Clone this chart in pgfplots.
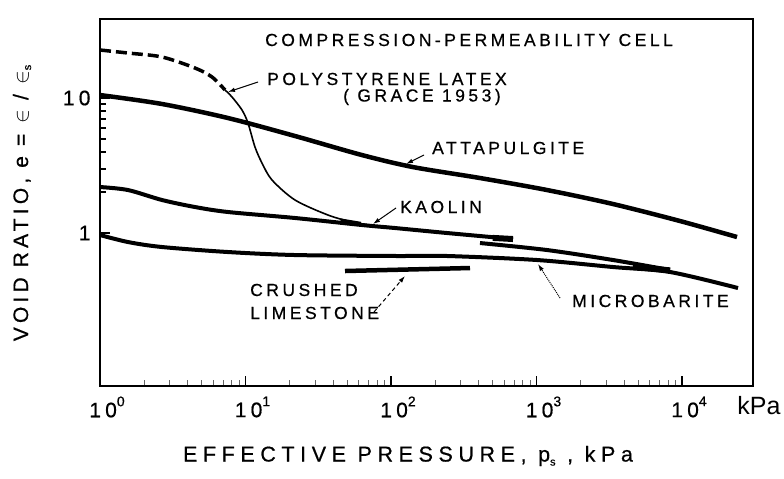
\documentclass[border=0pt]{standalone}
\usepackage{pgfplots}
\pgfplotsset{compat=1.18}
\usetikzlibrary{arrows.meta}
\usepackage{fontspec}
\setmainfont{Liberation Sans}
\newfontfamily\lbl[LetterSpace=20,FakeBold=0.6]{Liberation Sans}
\newfontfamily\lblw[LetterSpace=26,FakeBold=0.6]{Liberation Sans}
\newcommand\lab{\lbl\fontsize{17.5bp}{20bp}\selectfont}
\newcommand\tk{\lbl\fontsize{21bp}{24bp}\selectfont}
\newcommand\supx[1]{\raisebox{11bp}{\lbl\fontsize{14bp}{14bp}\selectfont #1}}
\begin{document}
\begin{tikzpicture}
\begin{axis}[
  scale only axis, width=653bp, height=367bp,
  xmode=log, ymode=log,
  xmin=1, xmax=30760, ymin=0.0736, ymax=38.5,
  axis line style={line width=2.4bp},
  xtick={1,10,100,1000,10000},
  xticklabels={{10\supx{0}},{10\supx{1}},{10\supx{2}},{10\supx{3}},{10\supx{4}}},
  ytick={1,10}, yticklabels={1,10},
  tick align=inside, xtick pos=left, ytick pos=left,
  major tick length=10bp, minor tick length=6bp,
  every tick/.style={black, line width=1.2bp},
  minor y tick style={line width=2bp},
  minor x tick style={line width=0.5bp, black!60},
  ticklabel style={font=\tk},
  xticklabel style={yshift=-7bp, xshift=7bp},
  yticklabel style={xshift=-6bp},
]
% Attapulgite
\addplot[black, line width=4.5bp, smooth, tension=0.5] coordinates {
(1,10.52) (2.668,9.03) (7.58,7.109) (21.89,5.23) (63.18,3.78) (141.6,3.08)
(408.9,2.555) (1181,2.082) (3356,1.640) (9690,1.227) (23880,0.934)};
% Kaolin (first part)
\addplot[black, line width=4bp, smooth, tension=0.5] coordinates {
(1,2.191) (1.557,2.082) (2.668,1.756) (4.497,1.558) (7.58,1.431) (21.89,1.292)
(63.18,1.146) (106.5,1.089) (242.6,1.0) (689.4,0.9027)};
\addplot[black, line width=6bp] coordinates {(500,0.92) (689.4,0.9027)};
% Kaolin (second part)
\addplot[black, line width=4bp, smooth, tension=0.5] coordinates {
(408.9,0.8431) (1181,0.7482) (3356,0.6310) (8270,0.5321)};
\addplot[black, line width=6bp] coordinates {(4605,0.562) (8270,0.529)};
% Microbarite
\addplot[black, line width=4bp, smooth, tension=0.5] coordinates {
(1,0.9665) (1.557,0.8576) (2.668,0.7877) (7.58,0.7232) (21.89,0.6871)
(106.5,0.6758) (242.6,0.6758) (1008,0.6310) (3356,0.5599) (8270,0.5143) (24260,0.3914)};
% Crushed limestone
\addplot[black, line width=4.5bp] coordinates {(48.29,0.5231) (349.1,0.5505)};
% Polystyrene latex (Grace 1953)
\addplot[black, line width=3.5bp, dash pattern=on 11bp off 5bp, smooth, tension=0.5] coordinates {
(1,22.68) (1.557,21.54) (2.668,20.13) (4.497,16.68) (5.886,14.31) (7.23,11.47)};
\addplot[black, line width=1.6bp, smooth, tension=0.5] coordinates {
(7.23,11.47) (8.08,10.17) (9.46,8.151) (10.40,6.528) (11.62,4.335) (12.98,3.300)
(15.21,2.470) (21.89,1.756) (36.90,1.359) (53.95,1.206) (71.7,1.146)};
\addplot[black, line width=4bp] coordinates {(45,1.24) (62,1.17)};
\end{axis}
\begin{scope}[shift={(current axis.south west)}, x=1bp, y=-1bp, shift={(-100,-386)}]
\tikzset{lead/.style={line width=1bp, -{Latex[length=7bp,width=4.5bp]}}}
\node[anchor=west, inner sep=0] at (265,40) {\lab COMPRESSION-PERMEABILITY CELL};
\node[anchor=west, inner sep=0] at (267,79) {\lab POLYSTYRENE LATEX};
\node[anchor=west, inner sep=0] at (343,97) {\lab ( GRACE 1953)};
\node[anchor=west, inner sep=0] at (432,148) {\lab ATTAPULGITE};
\node[anchor=west, inner sep=0] at (400,207) {\lab KAOLIN};
\node[anchor=west, inner sep=0] at (250,290) {\lab CRUSHED};
\node[anchor=west, inner sep=0] at (250,313) {\lab LIMESTONE};
\node[anchor=west, inner sep=0] at (572,301) {\lab MICROBARITE};
\draw[lead] (258,82) -- (228,92);
\draw[lead] (424,155) -- (406,164);
\draw[lead] (396,208) -- (373,224);
\draw[lead, dash pattern=on 4bp off 3bp] (374,312) -- (405,276);
\draw[lead, densely dotted] (560,298) -- (538,264);
\node[anchor=center, inner sep=0] at (408,456) {\lblw\fontsize{21.5bp}{24bp}\selectfont EFFECTIVE PRESSURE, p\raisebox{-4bp}{\fontsize{11bp}{11bp}\selectfont s} , kPa};
\node[anchor=center, inner sep=0, rotate=90] at (22,203) {\lbl\fontsize{21bp}{24bp}\selectfont VOID RATIO, e = $\in$ / $\in$\raisebox{-3bp}{\fontsize{11bp}{11bp}\selectfont s}};
\node[anchor=center, inner sep=0] at (759,406) {\fontsize{25bp}{28bp}\selectfont kPa};
\pgfresetboundingbox
\path (0,0) rectangle (784,479);
\end{scope}
\end{tikzpicture}
\end{document}
